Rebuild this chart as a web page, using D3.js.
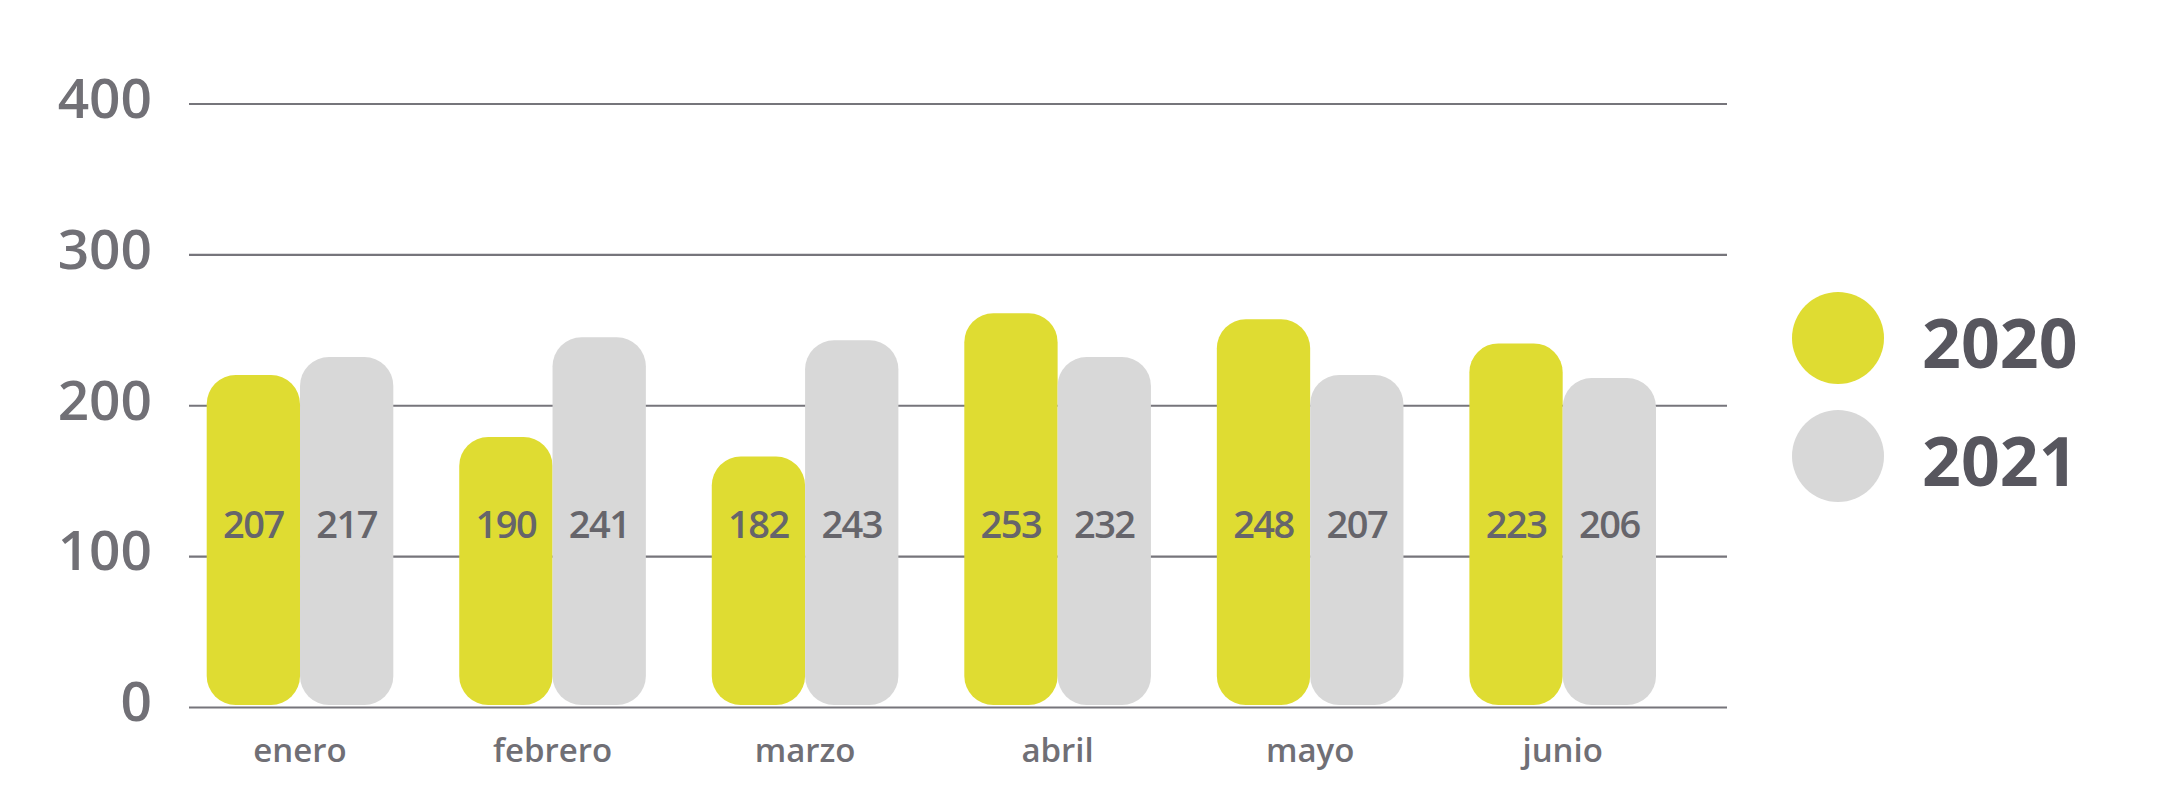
<!DOCTYPE html>
<html>
<head>
<meta charset="utf-8">
<script src="https://cdn.jsdelivr.net/npm/d3@7"></script>
<style>
  body { margin: 0; background: #fff; }
  svg { display: block; font-family: "Open Sans", "Noto Sans", sans-serif; }
  .grid line { stroke: #76757b; stroke-width: 2.2; }
  .grid text { fill: #717076; font-size: 55px; font-weight: 600; font-family: "Open Sans", "Noto Sans", sans-serif; }
</style>
</head>
<body>
<svg id="chart" width="2161" height="794"></svg>
<script>
// months and series
var meses = ["enero", "febrero", "marzo", "abril", "mayo", "junio"];
var series = ["2020", "2021"];

// numbers printed inside the bars
var etiquetas2020 = [207, 190, 182, 253, 248, 223];
var etiquetas2021 = [217, 241, 243, 232, 207, 206];

// bar heights as drawn in the picture (they don't follow the printed numbers)
var altura2020 = [220, 179, 166, 261, 257, 241];
var altura2021 = [232, 245, 243, 232, 220, 218];

var ticks = [0, 100, 200, 300, 400];

var colores = {"2020": "#dfdc32", "2021": "#d8d8d8"};

var svg = d3.select("#chart");

var left = 189, right = 1727;

var y = d3.scaleLinear()
    .domain([0, 400])
    .range([707, 103.5]);

// group positions
var x0 = d3.scaleBand()
    .domain(meses)
    .range([206.7, 1656])
    .paddingInner(0.261)
    .paddingOuter(0);

var x1 = d3.scaleBand()
    .domain(series)
    .range([0, x0.bandwidth()])
    .padding(0);

// gridlines + y labels
var yAxis = d3.axisLeft(y)
    .tickValues(ticks)
    .tickSizeInner(-(right - left))
    .tickSizeOuter(0)
    .tickPadding(37);

svg.append("g")
    .attr("class", "grid")
    .attr("transform", "translate(" + left + ",0)")
    .call(yAxis)
    .attr("font-family", null)
    .attr("font-size", null)
    .call(function(g) { g.select(".domain").remove(); })
    .selectAll("text")
    .attr("dy", "0.25em");

// build rows
var filas = meses.map(function(m, i) {
  return {
    mes: m,
    valores: [
      {serie: "2020", altura: altura2020[i], etiqueta: etiquetas2020[i]},
      {serie: "2021", altura: altura2021[i], etiqueta: etiquetas2021[i]}
    ]
  };
});

var grupos = svg.selectAll(".grupo")
    .data(filas)
  .enter().append("g")
    .attr("class", "grupo")
    .attr("transform", function(d) { return "translate(" + x0(d.mes) + ",0)"; });

grupos.selectAll("rect")
    .data(function(d) { return d.valores; })
  .enter().append("rect")
    .attr("x", function(d) { return x1(d.serie); })
    .attr("width", x1.bandwidth())
    .attr("y", function(d) { return y(d.altura); })
    .attr("height", function(d) { return y(0) - 2 - y(d.altura); })
    .attr("rx", 29)
    .attr("fill", function(d) { return colores[d.serie]; });

// value labels, all on one line
grupos.selectAll(".valor")
    .data(function(d) { return d.valores; })
  .enter().append("text")
    .attr("class", "valor")
    .attr("x", function(d) { return x1(d.serie) + x1.bandwidth() / 2; })
    .attr("y", 538)
    .attr("text-anchor", "middle")
    .style("font-size", "38px")
    .style("font-weight", 600)
    .style("fill", "#66656b")
    .style("letter-spacing", "-1.5px")
    .text(function(d) { return d.etiqueta; });

// month labels
grupos.append("text")
    .attr("x", x0.bandwidth() / 2)
    .attr("y", 762)
    .attr("text-anchor", "middle")
    .style("font-size", "33px")
    .style("font-weight", 600)
    .style("fill", "#706f75")
    .text(function(d) { return d.mes; });

// legend
var leyenda = svg.selectAll(".leyenda")
    .data(series)
  .enter().append("g")
    .attr("class", "leyenda")
    .attr("transform", function(d, i) { return "translate(1838," + (338 + i * 118) + ")"; });

leyenda.append("circle")
    .attr("r", 46)
    .attr("fill", function(d) { return colores[d]; });

leyenda.append("text")
    .attr("x", 84)
    .attr("y", 30)
    .style("font-size", "68px")
    .style("font-weight", 700)
    .style("fill", "#57565e")
    .text(function(d) { return d; });
</script>
</body>
</html>
